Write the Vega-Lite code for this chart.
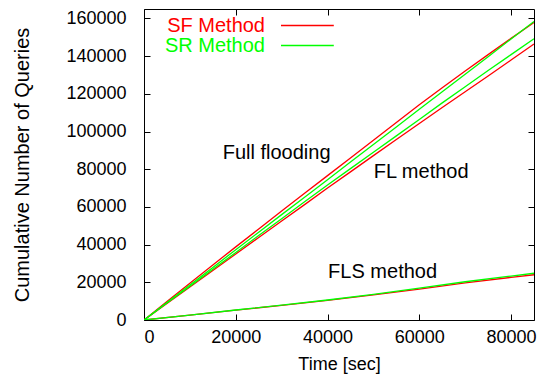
{
  "$schema": "https://vega.github.io/schema/vega-lite/v6.json",
  "width": 390,
  "height": 311,
  "autosize": {"type": "none"},
  "padding": {"left": 144, "top": 9, "right": 13, "bottom": 67},
  "config": {
    "font": "Liberation Sans",
    "view": {"stroke": "#000000", "strokeWidth": 1},
    "axis": {"labelFont": "Liberation Sans", "titleFont": "Liberation Sans", "labelFontSize": 18, "titleFontSize": 18, "labelColor": "#000000", "titleColor": "#000000", "titleFontWeight": "normal", "domain": false, "grid": false, "tickColor": "#000000", "tickSize": -6, "tickWidth": 1}
  },
  "datasets": {
    "lines": [
      {"group": "FF", "method": "SF Method", "t": 0, "q": 0},
      {"group": "FF", "method": "SF Method", "t": 5000, "q": 9800},
      {"group": "FF", "method": "SF Method", "t": 10000, "q": 19500},
      {"group": "FF", "method": "SF Method", "t": 15000, "q": 29200},
      {"group": "FF", "method": "SF Method", "t": 20000, "q": 38800},
      {"group": "FF", "method": "SF Method", "t": 25000, "q": 48300},
      {"group": "FF", "method": "SF Method", "t": 30000, "q": 57800},
      {"group": "FF", "method": "SF Method", "t": 35000, "q": 67200},
      {"group": "FF", "method": "SF Method", "t": 40000, "q": 76600},
      {"group": "FF", "method": "SF Method", "t": 45000, "q": 86000},
      {"group": "FF", "method": "SF Method", "t": 50000, "q": 95400},
      {"group": "FF", "method": "SF Method", "t": 55000, "q": 104800},
      {"group": "FF", "method": "SF Method", "t": 60000, "q": 114200},
      {"group": "FF", "method": "SF Method", "t": 65000, "q": 123200},
      {"group": "FF", "method": "SF Method", "t": 70000, "q": 132100},
      {"group": "FF", "method": "SF Method", "t": 75000, "q": 140800},
      {"group": "FF", "method": "SF Method", "t": 80000, "q": 149400},
      {"group": "FF", "method": "SF Method", "t": 85000, "q": 157800},
      {"group": "FL", "method": "SF Method", "t": 0, "q": 0},
      {"group": "FL", "method": "SF Method", "t": 5000, "q": 8800},
      {"group": "FL", "method": "SF Method", "t": 10000, "q": 17500},
      {"group": "FL", "method": "SF Method", "t": 15000, "q": 26300},
      {"group": "FL", "method": "SF Method", "t": 20000, "q": 35000},
      {"group": "FL", "method": "SF Method", "t": 25000, "q": 43800},
      {"group": "FL", "method": "SF Method", "t": 30000, "q": 52500},
      {"group": "FL", "method": "SF Method", "t": 35000, "q": 61200},
      {"group": "FL", "method": "SF Method", "t": 40000, "q": 70000},
      {"group": "FL", "method": "SF Method", "t": 45000, "q": 78600},
      {"group": "FL", "method": "SF Method", "t": 50000, "q": 87200},
      {"group": "FL", "method": "SF Method", "t": 55000, "q": 95800},
      {"group": "FL", "method": "SF Method", "t": 60000, "q": 104300},
      {"group": "FL", "method": "SF Method", "t": 65000, "q": 112700},
      {"group": "FL", "method": "SF Method", "t": 70000, "q": 121100},
      {"group": "FL", "method": "SF Method", "t": 75000, "q": 129500},
      {"group": "FL", "method": "SF Method", "t": 80000, "q": 137900},
      {"group": "FL", "method": "SF Method", "t": 85000, "q": 146400},
      {"group": "FLS", "method": "SF Method", "t": 0, "q": 0},
      {"group": "FLS", "method": "SF Method", "t": 10000, "q": 2600},
      {"group": "FLS", "method": "SF Method", "t": 20000, "q": 5200},
      {"group": "FLS", "method": "SF Method", "t": 30000, "q": 7800},
      {"group": "FLS", "method": "SF Method", "t": 40000, "q": 10400},
      {"group": "FLS", "method": "SF Method", "t": 50000, "q": 13300},
      {"group": "FLS", "method": "SF Method", "t": 60000, "q": 16400},
      {"group": "FLS", "method": "SF Method", "t": 70000, "q": 19700},
      {"group": "FLS", "method": "SF Method", "t": 80000, "q": 22600},
      {"group": "FLS", "method": "SF Method", "t": 85000, "q": 24000},
      {"group": "FF", "method": "SR Method", "t": 0, "q": 0},
      {"group": "FF", "method": "SR Method", "t": 5000, "q": 9300},
      {"group": "FF", "method": "SR Method", "t": 10000, "q": 18600},
      {"group": "FF", "method": "SR Method", "t": 15000, "q": 27900},
      {"group": "FF", "method": "SR Method", "t": 20000, "q": 37300},
      {"group": "FF", "method": "SR Method", "t": 25000, "q": 46600},
      {"group": "FF", "method": "SR Method", "t": 30000, "q": 55900},
      {"group": "FF", "method": "SR Method", "t": 35000, "q": 65100},
      {"group": "FF", "method": "SR Method", "t": 40000, "q": 74400},
      {"group": "FF", "method": "SR Method", "t": 45000, "q": 83800},
      {"group": "FF", "method": "SR Method", "t": 50000, "q": 93100},
      {"group": "FF", "method": "SR Method", "t": 55000, "q": 102400},
      {"group": "FF", "method": "SR Method", "t": 60000, "q": 111800},
      {"group": "FF", "method": "SR Method", "t": 65000, "q": 121100},
      {"group": "FF", "method": "SR Method", "t": 70000, "q": 130400},
      {"group": "FF", "method": "SR Method", "t": 75000, "q": 139700},
      {"group": "FF", "method": "SR Method", "t": 80000, "q": 149100},
      {"group": "FF", "method": "SR Method", "t": 85000, "q": 158400},
      {"group": "FL", "method": "SR Method", "t": 0, "q": 0},
      {"group": "FL", "method": "SR Method", "t": 5000, "q": 9000},
      {"group": "FL", "method": "SR Method", "t": 10000, "q": 17900},
      {"group": "FL", "method": "SR Method", "t": 15000, "q": 26900},
      {"group": "FL", "method": "SR Method", "t": 20000, "q": 35800},
      {"group": "FL", "method": "SR Method", "t": 25000, "q": 44800},
      {"group": "FL", "method": "SR Method", "t": 30000, "q": 53700},
      {"group": "FL", "method": "SR Method", "t": 35000, "q": 62700},
      {"group": "FL", "method": "SR Method", "t": 40000, "q": 71600},
      {"group": "FL", "method": "SR Method", "t": 45000, "q": 80300},
      {"group": "FL", "method": "SR Method", "t": 50000, "q": 89000},
      {"group": "FL", "method": "SR Method", "t": 55000, "q": 97700},
      {"group": "FL", "method": "SR Method", "t": 60000, "q": 106400},
      {"group": "FL", "method": "SR Method", "t": 65000, "q": 115200},
      {"group": "FL", "method": "SR Method", "t": 70000, "q": 123800},
      {"group": "FL", "method": "SR Method", "t": 75000, "q": 132400},
      {"group": "FL", "method": "SR Method", "t": 80000, "q": 140800},
      {"group": "FL", "method": "SR Method", "t": 85000, "q": 149200},
      {"group": "FLS", "method": "SR Method", "t": 0, "q": 0},
      {"group": "FLS", "method": "SR Method", "t": 10000, "q": 2600},
      {"group": "FLS", "method": "SR Method", "t": 20000, "q": 5300},
      {"group": "FLS", "method": "SR Method", "t": 30000, "q": 7900},
      {"group": "FLS", "method": "SR Method", "t": 40000, "q": 10600},
      {"group": "FLS", "method": "SR Method", "t": 50000, "q": 13600},
      {"group": "FLS", "method": "SR Method", "t": 60000, "q": 16900},
      {"group": "FLS", "method": "SR Method", "t": 70000, "q": 20300},
      {"group": "FLS", "method": "SR Method", "t": 80000, "q": 23300},
      {"group": "FLS", "method": "SR Method", "t": 85000, "q": 24800}
    ],
    "notes": [
      {"label": "Full flooding", "t": 28900, "q": 88600},
      {"label": "FL method", "t": 60400, "q": 78500},
      {"label": "FLS method", "t": 52000, "q": 25300}
    ]
  },
  "layer": [
    {
      "data": {"name": "lines"},
      "mark": {"type": "line", "strokeWidth": 1.3, "clip": true},
      "encoding": {
        "x": {"field": "t", "type": "quantitative", "scale": {"domain": [0, 85000], "nice": false, "zero": false},
              "axis": {"title": "Time [sec]", "values": [0, 20000, 40000, 60000, 80000], "format": "d", "labelPadding": 14, "titlePadding": 9, "orient": "bottom"}},
        "y": {"field": "q", "type": "quantitative", "scale": {"domain": [0, 165000], "nice": false},
              "axis": {"title": "Cumulative Number of Queries", "titleFontSize": 20, "values": [0, 20000, 40000, 60000, 80000, 100000, 120000, 140000, 160000], "format": "d", "labelPadding": 24, "titlePadding": 33, "orient": "left"}},
        "color": {"field": "method", "type": "nominal",
                  "scale": {"domain": ["SF Method", "SR Method"], "range": ["#ff0000", "#00ff00"]},
                  "legend": {"title": null, "orient": "none", "legendX": 127, "legendY": 6.5, "padding": 0,
                             "symbolType": "M0,0H6.6", "symbolSize": 256, "symbolStrokeWidth": 1.3,
                             "labelFontSize": 20, "labelFont": "Liberation Sans", "rowPadding": 0,
                             "encode": {"labels": {"update": {"x": {"value": -6}, "align": {"value": "right"},
                                        "fill": {"signal": "datum.value == 'SF Method' ? '#ff0000' : '#00ff00'"}}}}}},
        "detail": {"field": "group", "type": "nominal"},
        "order": {"field": "t", "type": "quantitative"}
      }
    },
    {
      "data": {"name": "notes"},
      "mark": {"type": "text", "fontSize": 20, "font": "Liberation Sans", "color": "#000000", "align": "center", "baseline": "middle"},
      "encoding": {
        "x": {"field": "t", "type": "quantitative", "axis": null},
        "y": {"field": "q", "type": "quantitative", "axis": null},
        "text": {"field": "label"}
      }
    },
    {
      "data": {"name": "notes"},
      "mark": {"type": "point", "opacity": 0},
      "encoding": {
        "x": {"field": "t", "type": "quantitative", "axis": {"orient": "top", "labels": false, "title": null, "values": [0, 20000, 40000, 60000, 80000]}},
        "y": {"field": "q", "type": "quantitative", "axis": {"orient": "right", "labels": false, "title": null, "values": [0, 20000, 40000, 60000, 80000, 100000, 120000, 140000, 160000]}}
      }
    }
  ],
  "resolve": {"axis": {"x": "independent", "y": "independent"}}
}
